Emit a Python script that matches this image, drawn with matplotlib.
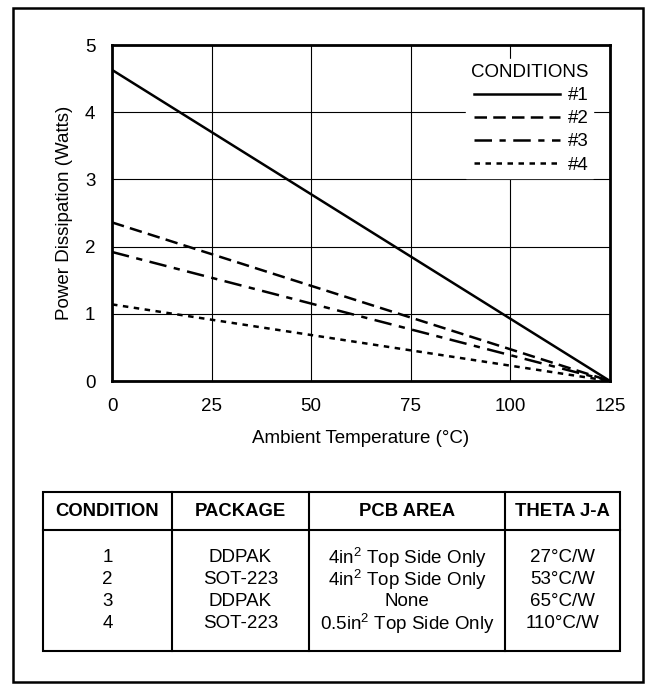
import matplotlib
matplotlib.use("Agg")
import matplotlib.pyplot as plt

plt.rcParams['font.family'] = ['Liberation Sans', 'DejaVu Sans']
plt.rcParams['mathtext.fontset'] = 'custom'
plt.rcParams['mathtext.rm'] = 'Liberation Sans'
plt.rcParams['mathtext.it'] = 'Liberation Sans'

# ---- data ----
temps = [0, 125]
p1 = [4.63, 0.0]
p2 = [2.36, 0.0]
p3 = [1.92, 0.0]
p4 = [1.14, 0.0]
series_labels = ['#1', '#2', '#3', '#4']
x_ticks = [0, 25, 50, 75, 100, 125]
y_ticks = [0, 1, 2, 3, 4, 5]

table_header = ['CONDITION', 'PACKAGE', 'PCB AREA', 'THETA J-A']
conditions = ['1', '2', '3', '4']
packages = ['DDPAK', 'SOT-223', 'DDPAK', 'SOT-223']
pcb_area = ['4in$^{2}$ Top Side Only', '4in$^{2}$ Top Side Only', 'None',
            '0.5in$^{2}$ Top Side Only']
theta_ja = ['27°C/W', '53°C/W', '65°C/W', '110°C/W']

FS = 13.5
W, H = 657, 690
fig = plt.figure(figsize=(W / 100, H / 100), dpi=100)

# overlay for frame & table in pixel coords
ov = fig.add_axes([0, 0, 1, 1])
ov.set_xlim(0, W)
ov.set_ylim(H, 0)
ov.axis('off')
ov.add_patch(plt.Rectangle((13, 8), 630, 674, fill=False, lw=1.8, ec='black'))

# ---- chart ----
ax = fig.add_axes([112 / W, 1 - 381 / H, (610 - 112) / W, (381 - 45) / H])
ax.plot(temps, p1, color='black', lw=1.8, ls='-', label=series_labels[0])
ax.plot(temps, p2, color='black', lw=1.8, ls=(0, (5, 2.5)), label=series_labels[1])
ax.plot(temps, p3, color='black', lw=1.8, ls=(0, (7, 3, 2.5, 3)), label=series_labels[2])
ax.plot(temps, p4, color='black', lw=1.8, ls=(0, (2.2, 2.2)), label=series_labels[3])
ax.set_xlim(0, 125)
ax.set_ylim(0, 5)
ax.set_xticks(x_ticks)
ax.set_yticks(y_ticks)
ax.grid(True, color='black', lw=0.8)
ax.tick_params(length=0, labelsize=FS)
ax.tick_params(axis='x', pad=12)
ax.tick_params(axis='y', pad=12)
for s in ax.spines.values():
    s.set_linewidth(2)
ax.set_xlabel('Ambient Temperature (°C)', fontsize=FS, labelpad=11)
ax.set_ylabel('Power Dissipation (Watts)', fontsize=FS, labelpad=8.5)

leg = ax.legend(loc='upper right', bbox_to_anchor=(0.985, 0.985), title='CONDITIONS',
                fontsize=FS, title_fontsize=FS, handlelength=4.6, handletextpad=0.4,
                labelspacing=0.32, frameon=True, fancybox=False, borderpad=0.25)
leg.get_frame().set_facecolor('white')
leg.get_frame().set_edgecolor('white')
leg.get_frame().set_alpha(1)
leg._legend_box.align = 'right'

# ---- table ----
tl, tr = 43, 620
tt, th, tb = 492, 530, 651
cols = [43, 172, 309, 505, 620]
ov.add_patch(plt.Rectangle((tl, tt), tr - tl, tb - tt, fill=False, lw=1.5, ec='black'))
ov.plot([tl, tr], [th, th], color='black', lw=1.5)
for c in cols[1:-1]:
    ov.plot([c, c], [tt, tb], color='black', lw=1.5)
centers = [(cols[i] + cols[i + 1]) / 2 for i in range(4)]
for c, t in zip(centers, table_header):
    ov.text(c, (tt + th) / 2 + 1, t, ha='center', va='center', fontsize=13.3, fontweight='bold')
row_y = [558, 580, 602, 624]
for i in range(4):
    for c, t in zip(centers, [conditions[i], packages[i], pcb_area[i], theta_ja[i]]):
        ov.text(c, row_y[i], t, ha='center', va='center', fontsize=FS)

fig.savefig('out.png', dpi=100)
